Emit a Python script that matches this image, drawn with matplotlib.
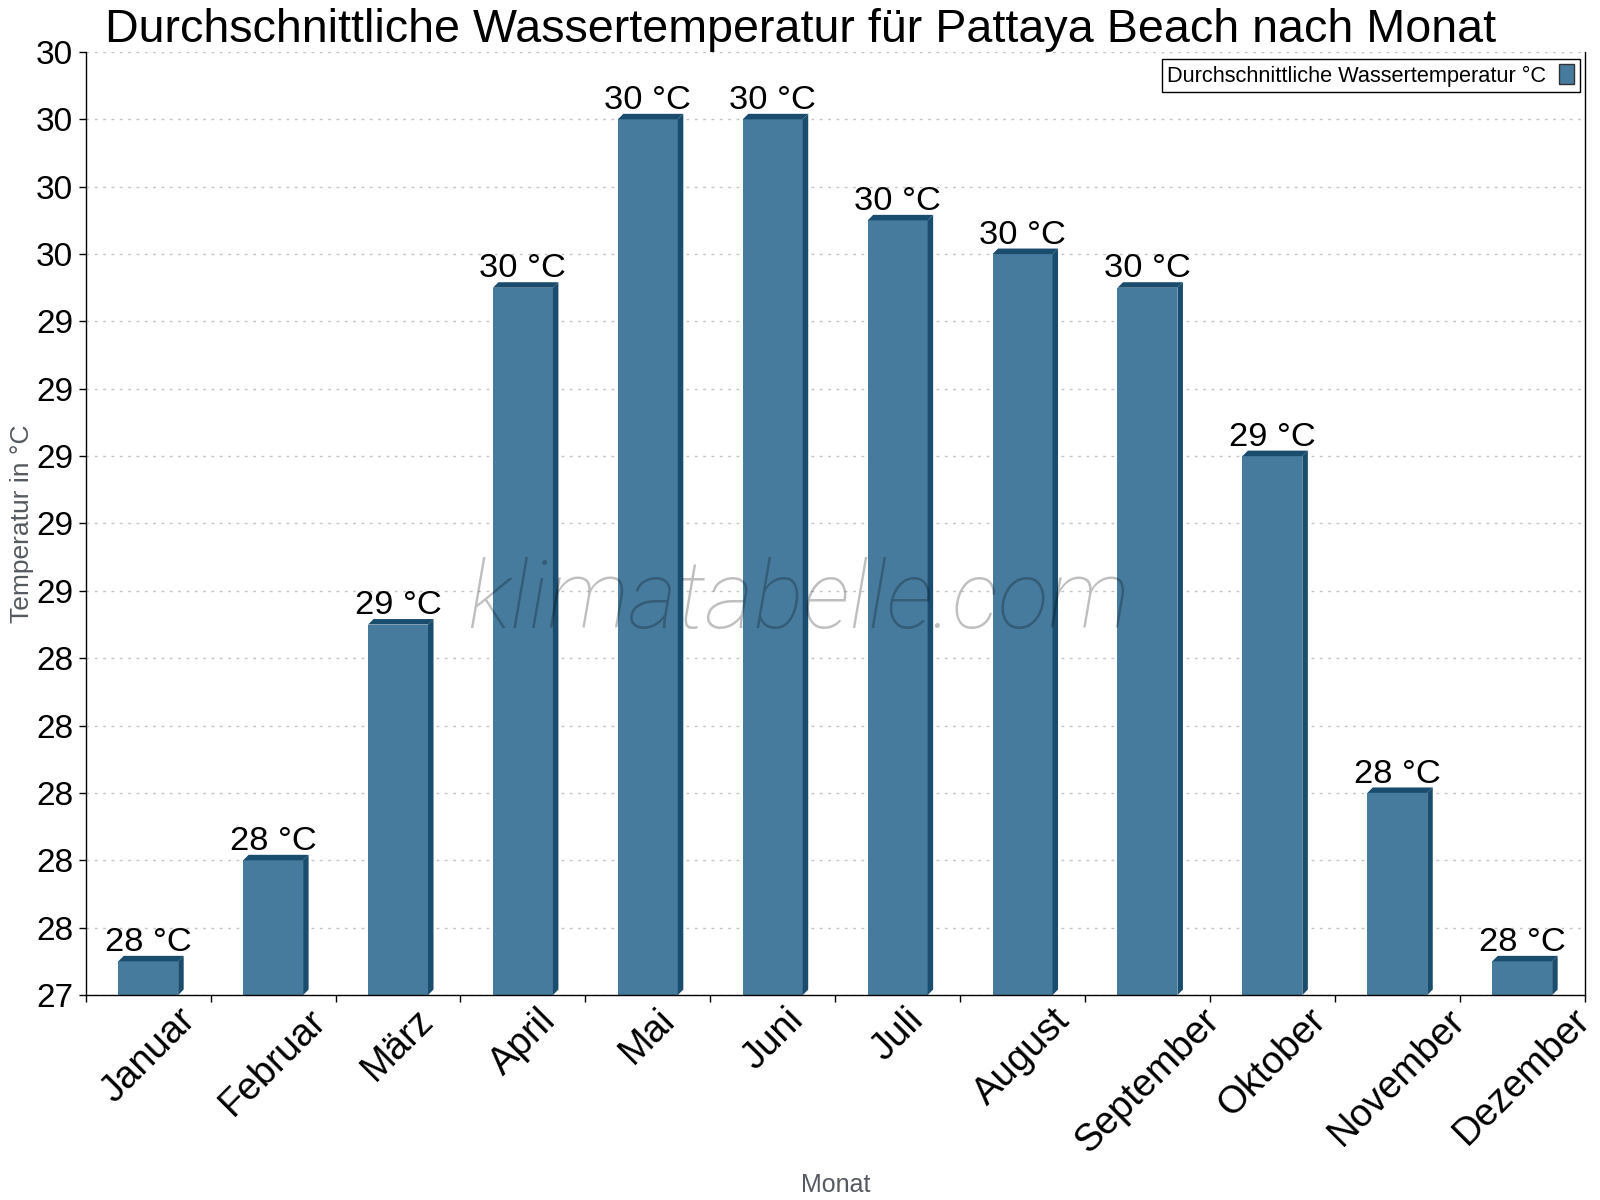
import numpy as np
import matplotlib
matplotlib.use("Agg")
import matplotlib.pyplot as plt
from matplotlib.patches import Polygon
from matplotlib.ticker import MultipleLocator, FuncFormatter

months = ["Januar", "Februar", "März", "April", "Mai", "Juni", "Juli",
          "August", "September", "Oktober", "November", "Dezember"]
water_temp = [27.5, 27.8, 28.5, 29.5, 30.0, 30.0, 29.7, 29.6, 29.5, 29.0, 28.0, 27.5]

title = "Durchschnittliche Wassertemperatur für Pattaya Beach nach Monat"
series_name = "Durchschnittliche Wassertemperatur °C"
y_min, y_max = 27.4, 30.2

FRONT = "#467b9e"
DARK = "#1a4c6e"

plt.rcParams['font.family'] = ['Liberation Sans', 'DejaVu Sans']

fig = plt.figure(figsize=(16, 12), dpi=100)
ax = fig.add_axes([0.0536, 0.1708, 0.9368, 0.7859])

x = np.arange(len(months))
bar_w = 0.48
ax.bar(x, np.array(water_temp) - y_min, bottom=y_min, width=bar_w,
       color=FRONT, zorder=2, label=series_name, edgecolor=DARK, linewidth=0)

ax.set_xlim(-0.5, len(months) - 0.5)
ax.set_ylim(y_min, y_max)

# 3d look: depth in pixels converted to data units
depth_px = 5.5
ax_w_px = 0.9368 * 1600
ax_h_px = 0.7859 * 1200
dx = depth_px * len(months) / ax_w_px
dy = depth_px * (y_max - y_min) / ax_h_px
for xi, v in zip(x, water_temp):
    x0, x1 = xi - bar_w / 2, xi + bar_w / 2
    side = [(x1, y_min), (x1 + dx, y_min + dy), (x1 + dx, v + dy), (x1, v)]
    top = [(x0, v), (x0 + dx, v + dy), (x1 + dx, v + dy), (x1, v)]
    ax.add_patch(Polygon(side, closed=True, color=DARK, lw=0, zorder=2, clip_on=False))
    ax.add_patch(Polygon(top, closed=True, color=DARK, lw=0, zorder=2))
    lbl = int(np.floor(v + 0.5))
    ax.annotate(f"{lbl} °C", (xi, v + dy), xytext=(0, -1.5), textcoords="offset points",
                ha="center", va="bottom", fontsize=24.8, color="black", zorder=4)

ax.yaxis.set_major_locator(MultipleLocator(0.2))
ax.yaxis.set_major_formatter(FuncFormatter(lambda v, p: f"{int(np.floor(v + 0.5 + 1e-9))}"))
ax.grid(axis="y", linestyle=(0, (2, 4)), color="#c4c4c4", linewidth=1, zorder=0)
ax.set_axisbelow(True)

ax.set_xticks(x)
ax.set_xticklabels(months, rotation=45, ha="center", fontsize=27.5)
ax.set_xticks(np.arange(-0.5, len(months), 1.0), minor=True)
ax.tick_params(axis="x", which="major", length=0, pad=5)
ax.tick_params(axis="x", which="minor", length=5, direction="out", width=1)
ax.tick_params(axis="y", length=5, direction="out", width=1, pad=4, labelsize=24)

ax.spines["top"].set_visible(False)
for s in ["left", "right", "bottom"]:
    ax.spines[s].set_color("black")
    ax.spines[s].set_linewidth(1)

ax.set_title(title, fontsize=33.6, pad=-1.5)
ax.title.set_position((0.477, 1.0))
ax.set_ylabel("Temperatur in °C", fontsize=19, color="#555a60")
ax.yaxis.set_label_coords(-0.0345, 0.5)
ax.set_xlabel("Monat", fontsize=18, color="#555a60")
ax.xaxis.set_label_coords(0.5, -0.189)

leg = ax.legend(loc="upper right", bbox_to_anchor=(0.9968, 0.9926), fontsize=15.7,
                markerfirst=False, fancybox=False, framealpha=1, edgecolor="black",
                handlelength=0.7, handleheight=1.0, borderpad=0.25, handletextpad=0.6,
                borderaxespad=0)
leg.get_frame().set_linewidth(1)
for h in leg.legend_handles:
    h.set_edgecolor("#333333")
    h.set_linewidth(1)

fig.text(0.499, 0.498, "klimatabelle.com", fontsize=67.5, family="Roboto",
         style="italic", weight="light", color="black", alpha=0.25,
         ha="center", va="center", zorder=5)

fig.savefig("out.png", dpi=100)
